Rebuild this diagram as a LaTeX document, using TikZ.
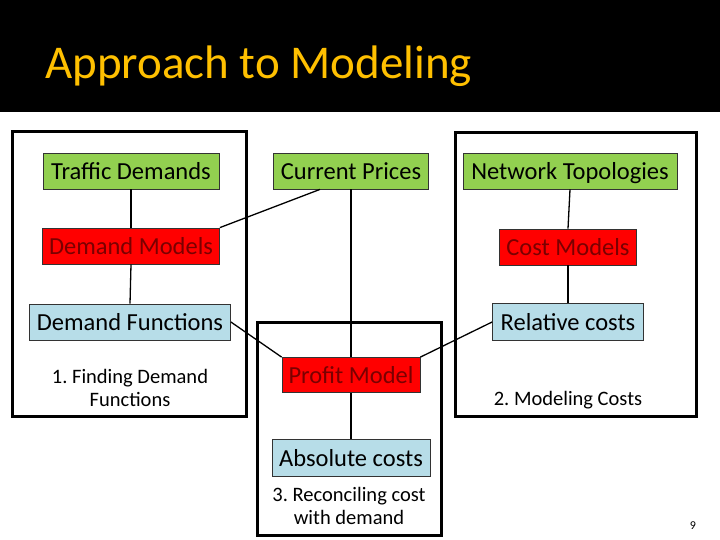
\documentclass[tikz,border=0pt]{standalone}
\usepackage{fontspec}
\setmainfont{Carlito}
\definecolor{tgreen}{HTML}{92D050}
\definecolor{tred}{HTML}{FF0000}
\definecolor{tblue}{HTML}{B7DDE8}
\definecolor{tdark}{HTML}{7A0000}
\definecolor{ttitle}{HTML}{FFC000}
\frenchspacing
\begin{document}
\begin{tikzpicture}[x=1pt,y=-1pt,
  boxbase/.style={draw=black!80,line width=0.8pt,inner sep=0pt,text height=17pt,text depth=0pt,font=\fontsize{24.5}{28}\selectfont},
  greenbox/.style={boxbase,fill=tgreen},
  redbox/.style={boxbase,fill=tred,text=tdark},
  bluebox/.style={boxbase,fill=tblue},
  frame/.style={draw=black,line width=3pt},
  caption/.style={font=\fontsize{20.5}{23}\selectfont,align=center},
  conn/.style={draw=black,line width=1.3pt}]
\useasboundingbox (0,0) rectangle (720,540);
\fill[white] (0,0) rectangle (720,540);
\fill[black] (0,0) rectangle (720,112);
\node[anchor=base west,text=ttitle,font=\fontsize{47}{54}\selectfont,inner sep=0pt] (title) at (45,79) {Approach to Modeling};
% frames
\draw[frame] (12,132) rectangle (246,416);
\draw[frame] (455,133) rectangle (696,416);
\draw[frame] (257,322) rectangle (441,535);
% nodes
\node[greenbox,minimum width=176,minimum height=36] (td) at (131,171) {Traffic Demands};
\node[redbox,minimum width=177,minimum height=36] (dm) at (131,246) {Demand Models};
\node[bluebox,minimum width=201,minimum height=36] (df) at (130,322) {Demand Functions};
\node[caption] (c1) at (130,388) {1. Finding Demand\\Functions};
\node[greenbox,minimum width=155,minimum height=36] (cp) at (351,171) {Current Prices};
\node[redbox,minimum width=138,minimum height=35] (pm) at (351,375) {Profit Model};
\node[bluebox,minimum width=158,minimum height=37] (ac) at (351,458) {Absolute costs};
\node[caption] (c3) at (349,506) {3. Reconciling cost\\with demand};
\node[greenbox,minimum width=214,minimum height=36] (nt) at (570,171) {Network Topologies};
\node[redbox,minimum width=137,minimum height=36] (cm) at (568,247) {Cost Models};
\node[bluebox,minimum width=151,minimum height=37] (rc) at (568,322) {Relative costs};
\node[caption] (c2) at (568,400) {2. Modeling Costs};
\node[font=\fontsize{12}{14}\selectfont] (pg) at (693,526) {9};
% connectors
\draw[conn] (td.south) -- (dm.north);
\draw[conn] (dm.south) -- (df.north);
\draw[conn] ([xshift=-31pt]cp.south) -- (dm.north east);
\draw[conn] (cp.south) -- (pm.north);
\draw[conn] (df.east) -- (pm.north west);
\draw[conn] (rc.west) -- (pm.north east);
\draw[conn] (pm.south) -- (ac.north);
\draw[conn] (nt.south) -- (cm.north);
\draw[conn] (cm.south) -- (rc.north);
\end{tikzpicture}
\end{document}
